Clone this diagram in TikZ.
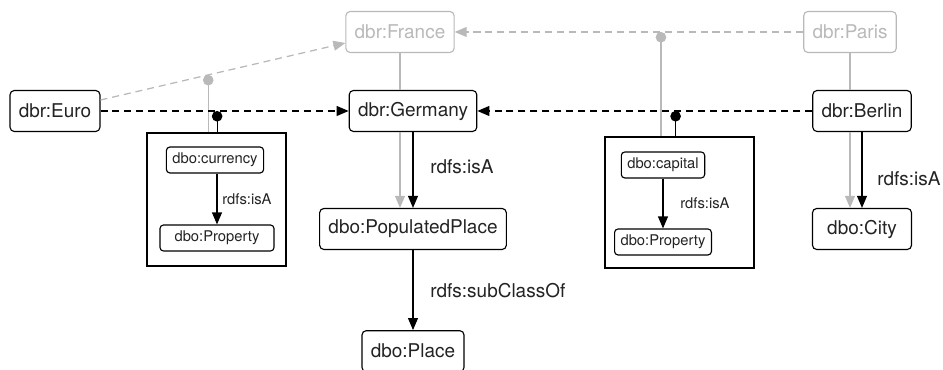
\documentclass[tikz,border=0pt]{standalone}
\usepackage{fontspec}
\setmainfont{TeX Gyre Heros}
\usepackage{tikz}
\usetikzlibrary{arrows.meta,positioning,calc}
\definecolor{kggray}{RGB}{185,185,185}
\definecolor{kgtext}{RGB}{35,35,35}
\tikzset{
  entity/.style={draw, rounded corners=3pt, line width=0.8pt, minimum height=1.025cm, inner xsep=0.22cm, text=kgtext, font=\fontsize{13.5}{15}\selectfont},
  ghost/.style={entity, draw=kggray, text=kggray},
  small/.style={draw, rounded corners=2.5pt, line width=0.8pt, minimum height=0.65cm, inner xsep=0.15cm, text=kgtext, font=\fontsize{10.5}{12}\selectfont},
  frame/.style={draw, line width=0.9pt},
  rel/.style={line width=0.9pt, dash pattern=on 5pt off 3.5pt, -{Triangle[length=8.5pt,width=7pt]}},
  ghostrel/.style={rel, kggray},
  isa/.style={line width=0.9pt, -{Triangle[length=8.5pt,width=7pt]}},
  reif/.style={line width=0.9pt, -{Circle[length=7.5pt]}},
  lbl/.style={text=kgtext, font=\fontsize{13.5}{15}\selectfont},
  smalllbl/.style={text=kgtext, font=\fontsize{10.5}{12}\selectfont}
}
\begin{document}
\begin{tikzpicture}
  \useasboundingbox (0,0) rectangle (23.575,9.25);

  % Faded upper layer
  \node[ghost] (france) at (10.0,8.45) {dbr:France};
  \node[ghost] (paris) at (21.25,8.45) {dbr:Paris};

  % Main entities
  \node[entity] (euro) at (1.375,6.475) {dbr:Euro};
  \node[entity] (germany) at (10.325,6.475) {dbr:Germany};
  \node[entity] (berlin) at (21.55,6.475) {dbr:Berlin};
  \node[entity] (popplace) at (10.325,3.525) {dbo:PopulatedPlace};
  \node[entity] (place) at (10.325,0.47) {dbo:Place};
  \node[entity, minimum width=2.475cm] (city) at (21.55,3.525) {dbo:City};

  % Reified predicate boxes
  \node[frame, minimum width=3.475cm, minimum height=3.325cm] (curframe) at (5.4125,4.2625) {};
  \node[small] (currency) at (5.375,5.25) {dbo:currency};
  \node[small, minimum width=2.85cm] (prop1) at (5.425,3.3) {dbo:Property};
  \node[frame, minimum width=3.725cm, minimum height=3.275cm] (capframe) at (16.9875,4.1875) {};
  \node[small] (capital) at (16.575,5.125) {dbo:capital};
  \node[small] (prop2) at (16.575,3.2) {dbo:Property};

  % Gray edges
  \draw[ghostrel] ([yshift=0.275cm]euro.east) -- coordinate[pos=0.44] (curdot1) ([yshift=-0.275cm]france.west);
  \draw[ghostrel] (paris.west) -- coordinate[pos=0.408] (capdot1) (france.east);
  \draw[line width=0.9pt, kggray] (france.south) -- (france.south |- germany.north);
  \draw[line width=0.9pt, kggray] (paris.south) -- (paris.south |- berlin.north);
  \draw[isa, kggray] (france.south |- germany.south) -- (france.south |- popplace.north);
  \draw[isa, kggray] (paris.south |- berlin.south) -- (paris.south |- city.north);
  \draw[reif, kggray] (curdot1 |- curframe.north) -- (curdot1);
  \draw[reif, kggray] (capdot1 |- capframe.north) -- (capdot1);

  % Black edges
  \draw[rel] (euro.east) -- coordinate[pos=0.47] (curdot2) (germany.west);
  \draw[rel] (berlin.west) -- coordinate[pos=0.408] (capdot2) (germany.east);
  \draw[reif] (curdot2 |- curframe.north) -- (curdot2);
  \draw[reif] (capdot2 |- capframe.north) -- (capdot2);
  \draw[isa] (germany.south) -- node[lbl, right=0.3cm, pos=0.45] {rdfs:isA} (popplace.north);
  \draw[isa] (berlin.south) -- node[lbl, right=0.25cm, pos=0.62] {rdfs:isA} (city.north);
  \draw[isa] (popplace.south) -- node[lbl, right=0.3cm] {rdfs:subClassOf} (place.north);
  \draw[isa] (currency.south -| prop1.north) -- node[smalllbl, right=0cm] {rdfs:isA} (prop1.north);
  \draw[isa] (capital.south) -- node[smalllbl, right=0.3cm] {rdfs:isA} (prop2.north);
\end{tikzpicture}
\end{document}
